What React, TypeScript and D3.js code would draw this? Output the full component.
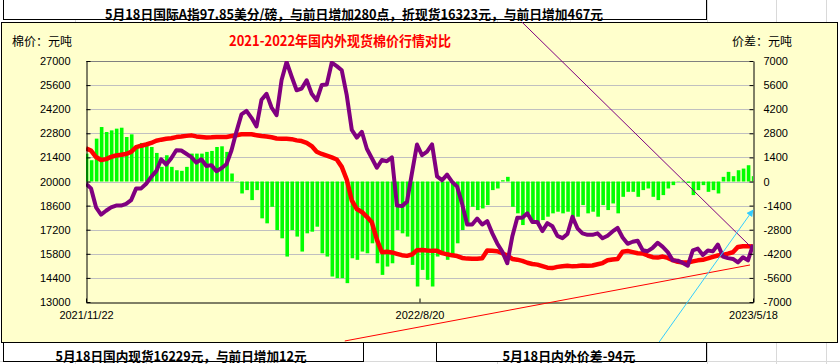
import React, { useRef, useEffect } from "react";
import * as d3 from "d3";

// 国内现货 (red, left axis)
const domestic = [
  21920, 21800, 21420, 21250, 21300, 21430, 21510, 21550, 21600, 21720,
  22000, 22080, 22150, 22240, 22370, 22430, 22480, 22510, 22580, 22610,
  22650, 22680, 22620, 22590, 22560, 22570, 22590, 22590, 22590, 22640,
  22690, 22740, 22740, 22740, 22690, 22640, 22610, 22570, 22500, 22490,
  22480, 22460, 22390, 22350, 22250, 22060, 21730, 21600, 21500, 21400,
  21280, 20850, 20100, 18900, 18400, 18230, 17950, 17630, 16620, 15890,
  15920, 15880, 15800, 15720, 15680, 15760, 16000, 16020, 15990, 15970,
  15970, 15840, 15770, 15710, 15670, 15560, 15520, 15510, 15510, 15540,
  15990, 15980, 15950, 15830, 15700, 15500, 15460, 15390, 15280, 15210,
  15170, 15080, 14995, 14970, 15040, 15080, 15100, 15070, 15090, 15120,
  15100, 15120, 15190, 15260, 15420, 15470, 15500, 15920, 15960, 15900,
  15830, 15820, 15700, 15600, 15580, 15640, 15560, 15430, 15330, 15295,
  15295, 15360, 15420, 15450, 15530, 15620, 15700, 15740, 15810, 15890,
  16200, 16240, 16240, 16229
];

// 国际A指折现货 (purple, left axis)
const international = [
  19870, 19600, 18500, 18080, 18300, 18495, 18600, 18600, 18700, 18920,
  19600, 19600, 19870, 20270, 20600, 21290, 20980, 21350, 21815, 21800,
  21610, 21420, 21100, 21290, 20900, 20950, 20600, 20770, 21000, 21800,
  22900, 23900, 24100, 23700, 23200, 24750, 25090, 24300, 23850, 25900,
  26950, 26100, 25300, 25400, 25880, 25100, 24720, 25600, 25630, 26900,
  26700, 26460, 25000, 23000, 22550, 22890, 21900, 21350, 20800, 21250,
  21180, 21400, 18600, 18570, 18820, 20500, 22150, 21525, 21740, 22160,
  20300, 20070, 20400, 19980, 19700, 18700, 17500, 17500, 17850, 17500,
  17700, 17000, 16400, 15930, 15250, 16800, 17900, 17900, 18150, 17650,
  17650, 17120, 17580, 17400, 16840, 16710, 16950, 17950, 17280, 16990,
  16900, 16900, 16990, 16700, 16850, 17100, 17300, 16750, 16380, 16500,
  16560, 16010, 15950, 16150, 16440, 16200, 15900, 15420, 15400, 15270,
  15110, 16000, 16100, 15730, 15990, 15940, 16340, 15640, 15550, 15500,
  15300, 15600, 15420, 16323
];

// 内外价差 (green bars, right axis)
const spread = [
  1620, 1235, 2490, 3165, 2875, 2970, 3070, 3125, 2585, 2740,
  2100, 2240, 2160, 2005, 1660, 850, 1525, 850, 655, 620,
  850, 1620, 1620, 1620, 1720, 1775, 2005, 2045, 1720, 465,
  -20, -695, -500, -1080, -500, -2140, -2430, -1470, -2820, -3300,
  -4360, -2820, -3200, -4070, -3010, -2915, -2625, -4170, -4360, -5520,
  -5615, -5615, -5905, -4460, -4550, -4070, -4170, -3590, -4750, -5425,
  -4940, -4750, -2820, -3010, -3200, -4845, -6100, -5135, -5710, -6100,
  -4360, -4265, -4550, -4265, -3590, -2820, -2430, -1470, -1660, -1565,
  -1370, -500, -405, 75, 270, -1470, -1850, -2530, -1850, -2240,
  -2430, -2240, -2045, -1850, -1755, -1850, -1755, -2430, -2045, -1370,
  -1850, -1755, -2045, -1370, -1660, -1275, -1850, -890, -600, -600,
  -890, -500, -405, -890, -1080, -790, -405, -210, -20, 40,
  -75, -790, -500, -210, -600, -500, -695, 270, 560, 310,
  655, 750, 945, 310
];

const leftTicks = [13000, 14400, 15800, 17200, 18600, 20000, 21400, 22800, 24200, 25600, 27000];
const rightTicks = [-7000, -5600, -4200, -2800, -1400, 0, 1400, 2800, 4200, 5600, 7000];
const xTickIndex = [0, 66.5, 133];
const xTickLabels = ["2021/11/22", "2022/8/20", "2023/5/18"];

// hand-drawn trend lines, in (index, left-axis value)
const trendLines = [
  { from: [86.9, 29270], to: [132.8, 16140], color: "#800080", arrow: false },
  { from: [51.6, 10735], to: [132.4, 15150], color: "#FF0000", arrow: false },
  { from: [114.3, 10680], to: [133, 18345], color: "#33CCFF", arrow: true }
];

const headline = "5月18日国际A指97.85美分/磅，与前日增加280点，折现货16323元，与前日增加467元";
const domesticNote = "5月18日国内现货16229元，与前日增加12元";
const spreadNote = "5月18日内外价差-94元";
const title = "2021-2022年国内外现货棉价行情对比";

const W = 840;
const H = 364;
const margin = { left: 86, right: 753, top: 61, bottom: 302 };
const cjk = "'Noto Sans CJK SC', 'Noto Sans', sans-serif";
const num = "'Liberation Sans', Arial, sans-serif";

const App = () => {
  const svgRef = useRef(null);

  useEffect(() => {
    const svg = d3.select(svgRef.current);
    svg.selectAll("*").remove();

    const x = d3.scaleLinear().domain([0, domestic.length - 1]).range([margin.left, margin.right]);
    const yL = d3.scaleLinear().domain([13000, 27000]).range([margin.bottom, margin.top]);
    const yR = d3.scaleLinear().domain([-7000, 7000]).range([margin.bottom, margin.top]);

    const defs = svg.append("defs");
    defs
      .append("clipPath")
      .attr("id", "plotClip")
      .append("rect")
      .attr("x", margin.left)
      .attr("y", margin.top)
      .attr("width", margin.right - margin.left)
      .attr("height", margin.bottom - margin.top);
    defs
      .append("marker")
      .attr("id", "cyanArrow")
      .attr("viewBox", "0 0 10 10")
      .attr("refX", 9)
      .attr("refY", 5)
      .attr("markerWidth", 7)
      .attr("markerHeight", 7)
      .attr("markerUnits", "userSpaceOnUse")
      .attr("orient", "auto")
      .append("path")
      .attr("d", "M0,0 L10,5 L0,10 z")
      .attr("fill", "#33CCFF");

    // worksheet behind
    svg.append("rect").attr("width", W).attr("height", H).attr("fill", "#ffffff");
    const sheetCols = [75, 146, 497, 570, 707, 776, 826];
    svg
      .selectAll(".sheetCol")
      .data(sheetCols)
      .enter()
      .append("line")
      .attr("x1", (d) => d + 0.5)
      .attr("x2", (d) => d + 0.5)
      .attr("y1", 0)
      .attr("y2", H)
      .attr("stroke", "#d9d9d9");
    svg
      .append("line")
      .attr("x1", 0)
      .attr("x2", W)
      .attr("y1", 361.5)
      .attr("y2", 361.5)
      .attr("stroke", "#d9d9d9");

    // headline box
    svg
      .append("rect")
      .attr("x", 3.5)
      .attr("y", -1)
      .attr("width", 703)
      .attr("height", 20.5)
      .attr("fill", "#ffffff")
      .attr("stroke", "#000");
    svg
      .append("text")
      .attr("x", 354)
      .attr("y", 13)
      .attr("text-anchor", "middle")
      .attr("dominant-baseline", "central")
      .attr("font-family", cjk)
      .attr("font-weight", "bold")
      .attr("font-size", 13)
      .attr("textLength", 498)
      .attr("lengthAdjust", "spacingAndGlyphs")
      .text(headline);

    // chart area
    svg
      .append("rect")
      .attr("x", 1.5)
      .attr("y", 22.5)
      .attr("width", 836)
      .attr("height", 320)
      .attr("fill", "#FFFFCC")
      .attr("stroke", "#000");

    svg
      .append("text")
      .attr("x", 340)
      .attr("y", 40)
      .attr("text-anchor", "middle")
      .attr("dominant-baseline", "central")
      .attr("font-family", cjk)
      .attr("font-weight", "bold")
      .attr("font-size", 14)
      .attr("fill", "#FF0000")
      .attr("textLength", 222)
      .attr("lengthAdjust", "spacingAndGlyphs")
      .text(title);
    svg
      .append("text")
      .attr("x", 12)
      .attr("y", 40)
      .attr("dominant-baseline", "central")
      .attr("font-family", cjk)
      .attr("font-size", 12)
      .text("棉价：元吨");
    svg
      .append("text")
      .attr("x", 732)
      .attr("y", 40)
      .attr("dominant-baseline", "central")
      .attr("font-family", cjk)
      .attr("font-size", 12)
      .text("价差：元吨");

    // gridlines
    svg
      .selectAll(".grid")
      .data(leftTicks.slice(1, -1))
      .enter()
      .append("line")
      .attr("x1", margin.left)
      .attr("x2", margin.right)
      .attr("y1", (d) => Math.round(yL(d)) + 0.5)
      .attr("y2", (d) => Math.round(yL(d)) + 0.5)
      .attr("stroke", "#C0C0C0");
    svg
      .append("line")
      .attr("x1", margin.left)
      .attr("x2", margin.right)
      .attr("y1", margin.top + 0.5)
      .attr("y2", margin.top + 0.5)
      .attr("stroke", "#808080");

    const plot = svg.append("g").attr("clip-path", "url(#plotClip)");

    // spread bars
    plot
      .selectAll(".bar")
      .data(spread)
      .enter()
      .append("rect")
      .attr("x", (_, i) => x(i) - 1.2)
      .attr("width", 3.6)
      .attr("y", (d) => Math.min(yR(d), yR(0)))
      .attr("height", (d) => Math.abs(yR(d) - yR(0)))
      .attr("fill", "#00FF00");

    const lineL = d3
      .line()
      .x((_, i) => x(i))
      .y((d) => yL(d));

    plot
      .append("path")
      .attr("d", lineL(domestic))
      .attr("fill", "none")
      .attr("stroke", "#FF0000")
      .attr("stroke-width", 4.5)
      .attr("stroke-linejoin", "round");

    plot
      .append("path")
      .attr("d", lineL(international))
      .attr("fill", "none")
      .attr("stroke", "#800080")
      .attr("stroke-width", 4)
      .attr("stroke-linejoin", "round");

    // axes
    const axisStyle = (g) => {
      g.selectAll("text").attr("font-family", num).attr("font-size", 11).attr("fill", "#000");
      g.selectAll("line").attr("stroke", "#000");
      g.select(".domain").attr("stroke", "#000");
    };

    svg
      .append("g")
      .attr("transform", `translate(${margin.left + 0.5},0)`)
      .call(
        d3
          .axisLeft(yL)
          .tickValues(leftTicks)
          .tickFormat((d) => String(d))
          .tickSizeInner(-4)
          .tickSizeOuter(0)
          .tickPadding(16)
      )
      .call(axisStyle);

    svg
      .append("g")
      .attr("transform", `translate(${margin.right + 0.5},0)`)
      .call(
        d3
          .axisRight(yR)
          .tickValues(rightTicks)
          .tickFormat((d) => String(d))
          .tickSizeInner(-4)
          .tickSizeOuter(0)
          .tickPadding(10)
      )
      .call(axisStyle)
      .selectAll("text")
      .attr("text-anchor", "start");

    svg
      .append("g")
      .attr("transform", `translate(0,${margin.bottom + 0.5})`)
      .call(
        d3
          .axisBottom(x)
          .tickValues(xTickIndex)
          .tickFormat((_, i) => xTickLabels[i])
          .tickSizeInner(-4)
          .tickSizeOuter(0)
          .tickPadding(9)
      )
      .call(axisStyle);

    // trend lines
    trendLines.forEach((t) => {
      const ln = svg
        .append("line")
        .attr("x1", x(t.from[0]))
        .attr("y1", yL(t.from[1]))
        .attr("x2", x(t.to[0]))
        .attr("y2", yL(t.to[1]))
        .attr("stroke", t.color)
        .attr("stroke-width", 1);
      if (t.arrow) ln.attr("marker-end", "url(#cyanArrow)");
    });

    // bottom notes
    const note = (x0, w, text, tw) => {
      svg
        .append("rect")
        .attr("x", x0 + 0.5)
        .attr("y", 342.5)
        .attr("width", w)
        .attr("height", 19)
        .attr("fill", "#ffffff")
        .attr("stroke", "#000");
      svg
        .append("text")
        .attr("x", x0 + w / 2 - 2)
        .attr("y", 355)
        .attr("text-anchor", "middle")
        .attr("dominant-baseline", "central")
        .attr("font-family", cjk)
        .attr("font-weight", "bold")
        .attr("font-size", 13)
        .attr("textLength", tw)
        .attr("lengthAdjust", "spacingAndGlyphs")
        .text(text);
    };
    note(3, 360, domesticNote, 251);
    note(436, 270, spreadNote, 133);
  }, []);

  return (
    <svg
      ref={svgRef}
      width={W}
      height={H}
      style={{ position: "absolute", left: 0, top: 0, display: "block" }}
      xmlns="http://www.w3.org/2000/svg"
    />
  );
};

export default App;
